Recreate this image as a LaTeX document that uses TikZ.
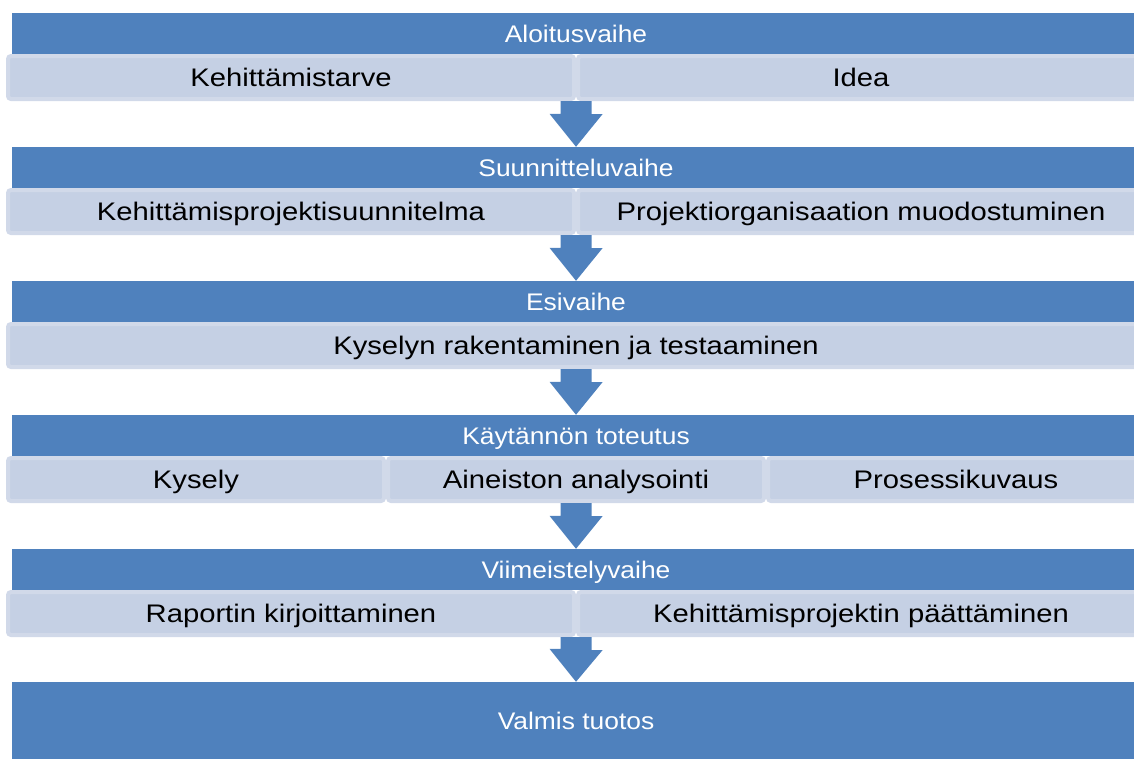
\documentclass[tikz,border=0pt]{standalone}
\usepackage{fontspec}
\setmainfont{Liberation Sans}
\usetikzlibrary{calc}

\definecolor{phaseblue}{HTML}{4F81BD}
\definecolor{cellfill}{HTML}{C5D0E4}
\definecolor{cellrim}{HTML}{D1D9E9}

\newcommand{\hdrtext}[1]{\scalebox{1.1}[1]{#1}}
\newcommand{\celltext}[1]{\scalebox{1.15}[1]{#1}}

\tikzset{
  phase/.style={rectangle, fill=phaseblue, inner sep=0pt, minimum width=1128pt,
    minimum height=41pt, text=white, font=\fontsize{24}{24}\selectfont,
    text height=19pt, text depth=2pt},
  cell/.style={rectangle, rounded corners=3pt, fill=cellfill, draw=cellrim, line width=4pt,
    inner sep=0pt, minimum height=43pt, text=black, font=\fontsize{25.4}{25.4}\selectfont,
    text height=20pt, text depth=2.4pt},
  half/.style={cell, minimum width=566pt},
  third/.style={cell, minimum width=376pt},
  whole/.style={cell, minimum width=1136pt},
  flowarrow/.style={fill=phaseblue, draw=none},
}

\begin{document}
\begin{tikzpicture}[x=1pt, y=-1pt]
\useasboundingbox (0,0) rectangle (1134,758);
\clip (0,0) rectangle (1134,758);

% Phase 1
\node[phase] (h1) at (576,33.5) {\hdrtext{Aloitusvaihe}};
\node[half] (c11) at (291,77.5) {\celltext{Kehittämistarve}};
\node[half] (c12) at (861,77.5) {\celltext{Idea}};

% Phase 2
\node[phase] (h2) at (576,167.5) {\hdrtext{Suunnitteluvaihe}};
\node[half] (c21) at (291,211.5) {\celltext{Kehittämisprojektisuunnitelma}};
\node[half] (c22) at (861,211.5) {\celltext{Projektiorganisaation muodostuminen}};

% Phase 3
\node[phase] (h3) at (576,301.5) {\hdrtext{Esivaihe}};
\node[whole] (c31) at (576,345.5) {\celltext{Kyselyn rakentaminen ja testaaminen}};

% Phase 4
\node[phase] (h4) at (576,435.5) {\hdrtext{Käytännön toteutus}};
\node[third] (c41) at (196,479.5) {\celltext{Kysely}};
\node[third] (c42) at (576,479.5) {\celltext{Aineiston analysointi}};
\node[third] (c43) at (956,479.5) {\celltext{Prosessikuvaus}};

% Phase 5
\node[phase] (h5) at (576,569.5) {\hdrtext{Viimeistelyvaihe}};
\node[half] (c51) at (291,613.5) {\celltext{Raportin kirjoittaminen}};
\node[half] (c52) at (861,613.5) {\celltext{Kehittämisprojektin päättäminen}};

% Result
\node[phase, minimum height=78pt] (h6) at (576,721) {\hdrtext{Valmis tuotos}};

% Block arrows between phases
\foreach \a/\b in {h1/h2, h2/h3, h3/h4, h4/h5, h5/h6} {
  \path[flowarrow] ($(\a.south)+(-15.5,47)$) -- ++(31,0) -- ++(0,13) -- ++(11,0)
    -- (\b.north) -- ($(\b.north)+(-26.5,-33)$) -- ++(11,0) -- cycle;
}
\end{tikzpicture}
\end{document}
